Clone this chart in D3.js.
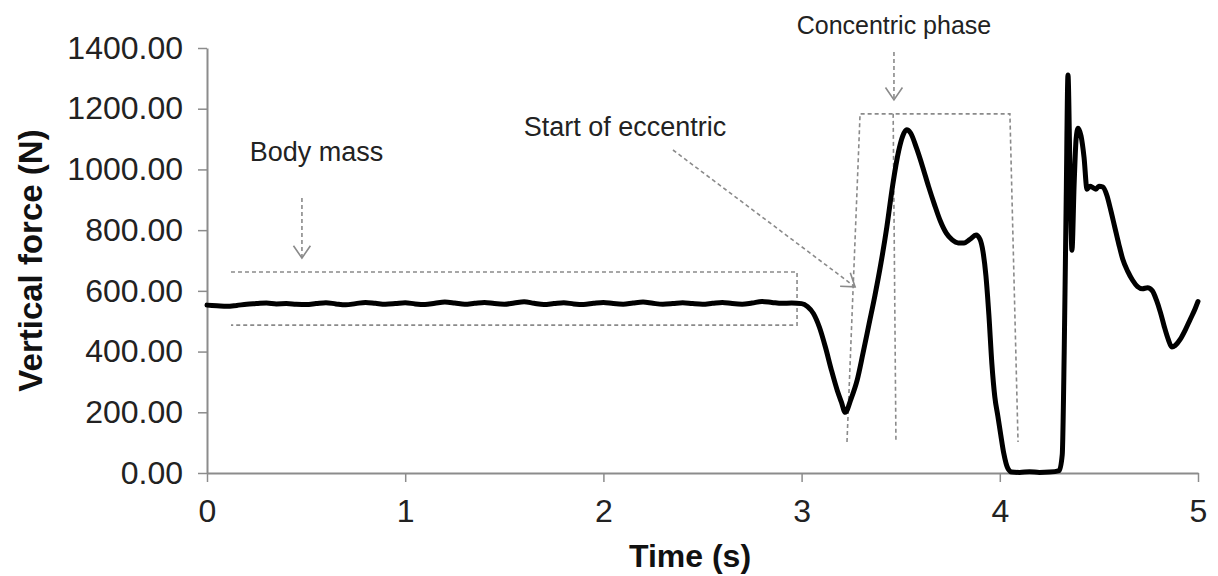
<!DOCTYPE html>
<html>
<head>
<meta charset="utf-8">
<script src="https://cdn.jsdelivr.net/npm/d3@7"></script>
<style>
  html, body { margin: 0; padding: 0; background: #fff; }
  svg { display: block; }
  text { font-family: "Liberation Sans", Arial, sans-serif; }
</style>
</head>
<body>
<svg id="chart" width="1218" height="576"></svg>
<script>
// ---------- data ----------
const timeS = [
  0.00,0.05,0.10,0.15,0.20,0.25,0.30,0.35,0.40,0.45,
  0.50,0.55,0.60,0.65,0.70,0.75,0.80,0.85,0.90,0.95,
  1.00,1.05,1.10,1.15,1.20,1.25,1.30,1.35,1.40,1.45,
  1.50,1.55,1.60,1.65,1.70,1.75,1.80,1.85,1.90,1.95,
  2.00,2.05,2.10,2.15,2.20,2.25,2.30,2.35,2.40,2.45,
  2.50,2.55,2.60,2.65,2.70,2.75,2.80,2.85,2.90,2.95,
  3.00,3.03,3.06,3.09,3.12,3.15,3.18,3.20,3.22,3.25,
  3.28,3.31,3.34,3.37,3.40,3.43,3.46,3.49,3.51,3.53,
  3.55,3.58,3.61,3.64,3.67,3.70,3.73,3.76,3.79,3.82,
  3.85,3.88,3.90,3.915,3.93,3.945,3.96,3.975,3.99,4.005,
  4.02,4.04,4.06,4.10,4.15,4.20,4.25,4.30,4.315,4.325,
  4.335,4.344,4.354,4.364,4.375,4.385,4.395,4.41,4.425,4.44,
  4.455,4.47,4.485,4.50,4.52,4.54,4.56,4.58,4.60,4.62,
  4.645,4.67,4.695,4.72,4.745,4.77,4.79,4.81,4.83,4.85,
  4.868,4.885,4.91,4.935,4.96,4.985,5.00
];
const forceN = [
  553,551,549,552,556,558,560,557,558,556,
  555,558,561,557,554,558,562,559,556,558,
  561,557,555,559,563,560,556,559,562,558,
  556,560,564,559,555,558,561,557,555,559,
  562,558,556,560,563,559,556,558,561,558,
  556,559,562,558,556,560,565,562,559,560,
  558,548,525,480,415,340,272,235,200,245,
  305,395,490,585,690,810,950,1062,1110,1131,
  1120,1070,1010,945,885,830,790,768,758,758,
  770,784,770,730,650,520,360,250,188,125,
  65,16,3,2,4,2,3,8,60,400,
  900,1311,1000,734,950,1100,1136,1110,1040,935,
  945,940,935,945,942,915,865,810,755,705,
  665,635,614,607,610,600,570,530,482,440,
  415,420,440,470,505,540,565
];
const xTicks = [0, 1, 2, 3, 4, 5];
const yTicks = [0, 200, 400, 600, 800, 1000, 1200, 1400];
const xTitle = "Time (s)";
const yTitle = "Vertical force (N)";

// annotations (data units: seconds, newtons)
const bodyMassLabel = { text: "Body mass", t: 0.552, f: 1028, size: 27 };
const bodyMassArrow = { t: 0.479, f0: 906, f1: 708 };
const bodyMassBox = { t0: 0.121, t1: 2.977, fLow: 487, fHigh: 662 };
const eccLabel = { text: "Start of eccentric", t: 2.109, f: 1110, size: 27 };
const eccArrow = { t0: 2.351, f0: 1064, t1: 3.27, f1: 613 };
const conLabel = { text: "Concentric phase", t: 3.466, f: 1446, size: 25 };
const conArrow = { t: 3.466, f0: 1387, f1: 1229 };
const phaseTop = 1183, phaseBottom = 102;
const phaseLeft = { tTop: 3.295, tBottom: 3.229 };
const phaseMid = { tTop: 3.462, tBottom: 3.476 };
const phaseRight = { tTop: 4.051, tBottom: 4.092 };

// ---------- layout ----------
const svg = d3.select("#chart");
const margin = { left: 207, right: 20, top: 48, bottom: 103 };
const W = 1218, H = 576;
const x = d3.scaleLinear().domain([0, 5]).range([margin.left, W - margin.right]);
const y = d3.scaleLinear().domain([0, 1400]).range([H - margin.bottom, margin.top]);

const axisColor = "#8c8c8c";
const textColor = "#222";
const annColor = "#8a8a8a";

// axes
const gx = svg.append("g").attr("transform", `translate(0,${y(0)})`)
  .call(d3.axisBottom(x).tickValues(xTicks).tickFormat(d3.format("d")).tickSize(9).tickSizeOuter(0).tickPadding(17));
const gy = svg.append("g").attr("transform", `translate(${x(0)},0)`)
  .call(d3.axisLeft(y).tickValues(yTicks).tickFormat(d3.format(".2f")).tickSize(9).tickSizeOuter(0).tickPadding(15));
[gx, gy].forEach(g => {
  g.select(".domain").attr("stroke", axisColor).attr("stroke-width", 2);
  g.selectAll(".tick line").attr("stroke", axisColor).attr("stroke-width", 1.5);
  g.selectAll(".tick text").attr("fill", textColor).attr("font-size", 32)
    .attr("font-family", '"Liberation Sans", Arial, sans-serif');
});

// axis titles
svg.append("text").attr("x", 690).attr("y", 567).attr("text-anchor", "middle")
  .attr("font-size", 32).attr("font-weight", "bold").attr("fill", "#111").text(xTitle);
svg.append("text").attr("transform", `translate(42,${(y(0) + y(1400)) / 2}) rotate(-90)`)
  .attr("text-anchor", "middle").attr("font-size", 33).attr("font-weight", "bold")
  .attr("fill", "#111").text(yTitle);

// ---------- annotations ----------
const ann = svg.append("g").attr("fill", "none").attr("stroke", annColor)
  .attr("stroke-width", 1.6).attr("stroke-dasharray", "4,3");

// body mass box (open on the left)
ann.append("path").attr("d", d3.line()([
  [x(bodyMassBox.t0), y(bodyMassBox.fHigh)],
  [x(bodyMassBox.t1), y(bodyMassBox.fHigh)],
  [x(bodyMassBox.t1), y(bodyMassBox.fLow)],
  [x(bodyMassBox.t0), y(bodyMassBox.fLow)]
]));

// phase trapezoid (open at the bottom)
ann.append("path").attr("d", d3.line()([
  [x(phaseLeft.tBottom), y(phaseBottom)],
  [x(phaseLeft.tTop), y(phaseTop)],
  [x(phaseRight.tTop), y(phaseTop)],
  [x(phaseRight.tBottom), y(phaseBottom)]
]));
ann.append("path").attr("d", d3.line()([
  [x(phaseMid.tTop), y(phaseTop)],
  [x(phaseMid.tBottom), y(phaseBottom)]
]));

function arrow(x0, y0, x1, y1) {
  ann.append("path").attr("d", d3.line()([[x0, y0], [x1, y1]]));
  const a = Math.atan2(y1 - y0, x1 - x0);
  const L = 15, spread = 0.6;
  const p1 = [x1 - L * Math.cos(a - spread), y1 - L * Math.sin(a - spread)];
  const p2 = [x1 - L * Math.cos(a + spread), y1 - L * Math.sin(a + spread)];
  svg.append("path").attr("d", d3.line()([p1, [x1, y1], p2]))
    .attr("fill", "none").attr("stroke", annColor).attr("stroke-width", 1.6);
}
arrow(x(bodyMassArrow.t), y(bodyMassArrow.f0), x(bodyMassArrow.t), y(bodyMassArrow.f1));
arrow(x(eccArrow.t0), y(eccArrow.f0), x(eccArrow.t1), y(eccArrow.f1));
arrow(x(conArrow.t), y(conArrow.f0), x(conArrow.t), y(conArrow.f1));

[bodyMassLabel, eccLabel, conLabel].forEach(l => {
  svg.append("text").attr("x", x(l.t)).attr("y", y(l.f)).attr("text-anchor", "middle")
    .attr("font-size", l.size).attr("fill", textColor).text(l.text);
});

// ---------- force curve ----------
const pts = timeS.map((t, i) => [t, forceN[i]]);
svg.append("path").datum(pts)
  .attr("fill", "none").attr("stroke", "#000").attr("stroke-width", 5)
  .attr("stroke-linejoin", "round").attr("stroke-linecap", "round")
  .attr("d", d3.line().x(d => x(d[0])).y(d => y(d[1])).curve(d3.curveMonotoneX));
</script>
</body>
</html>
